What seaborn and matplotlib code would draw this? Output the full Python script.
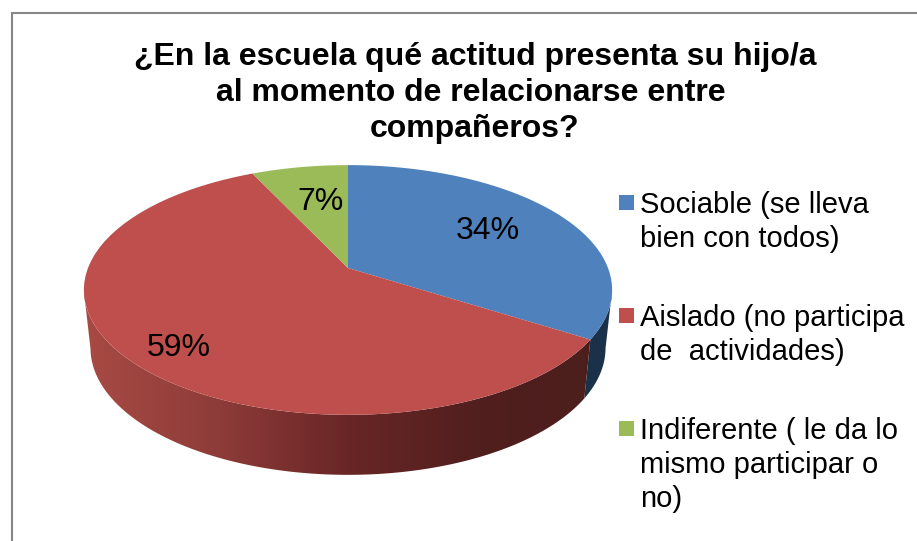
import numpy as np
import matplotlib
matplotlib.use('Agg')
import matplotlib.pyplot as plt
import seaborn as sns
from matplotlib.colors import LinearSegmentedColormap
from matplotlib.patches import Polygon, Rectangle
from matplotlib.path import Path
from matplotlib.transforms import Affine2D, Transform

titulo = '¿En la escuela qué actitud presenta su hijo/a\nal momento de relacionarse entre \ncompañeros?'
categorias = ['Sociable (se lleva\nbien con todos)',
              'Aislado (no participa\nde  actividades)',
              'Indiferente ( le da lo\nmismo participar o\nno)']
valores = [34, 59, 7]
colores = ['#4F81BD', '#BE4F4C', '#9BBB59']

sns.set_theme(style='white')
plt.rcParams['font.family'] = ['Liberation Sans', 'DejaVu Sans']

# vista en perspectiva del pie: circulo unitario -> pixeles
CX, CY = 348, 268
A, D, K = 260, 121, 0.176


class Perspectiva(Transform):
    input_dims = 2
    output_dims = 2
    is_affine = False

    def transform_non_affine(self, values):
        values = np.asarray(values, dtype=float)
        w = 1 + K * values[:, 1]
        return np.column_stack([CX + A * values[:, 0] / w,
                                CY - D * values[:, 1] / w])

    def transform_path_non_affine(self, path):
        poly = path.transformed(Affine2D().scale(400)).to_polygons()[0] / 400
        return Path(self.transform_non_affine(poly))


def base(xy):
    # borde inferior del pie, un poco mas chico y corrido hacia abajo
    return np.column_stack([CX + (xy[:, 0] - CX) * 0.975,
                            348 + (xy[:, 1] - 290) * 1.016])


fig = plt.figure(figsize=(9.17, 5.41), dpi=100)
ax = fig.add_axes([0, 0, 1, 1])

persp = Perspectiva()
wedges, texts, autotexts = ax.pie(valores, colors=colores, startangle=90,
                                  counterclock=False, autopct='%.0f%%',
                                  pctdistance=0.64,
                                  wedgeprops={'linewidth': 0},
                                  textprops={'fontsize': 23, 'color': 'black'})
for w in wedges:
    w.set_transform(persp + ax.transData)
    w.set_zorder(5)

# etiquetas: radio dentro de la porcion y ajuste fino en pixeles
radios = [0.64, 0.787, 0.64]
ajustes = [(2, 2), (0, -11), (5, -2)]
for t, r, aj in zip(autotexts, radios, ajustes):
    x, y = t.get_position()
    t.set_position((x * r / 0.64, y * r / 0.64))
    t.set_transform(persp + ax.transData + Affine2D().translate(*aj))
    t.set_zorder(6)

# pared lateral del pie, solo la parte de adelante
rojo_pared = LinearSegmentedColormap.from_list(
    'pared', ['#A84A44', '#8E3C39', '#692626', '#501F1E', '#4B1E1C'])
azul_pared = LinearSegmentedColormap.from_list('pared2', ['#1F3752', '#1B3049'])
paredes = [azul_pared, rojo_pared, None]
for w, cmap in zip(wedges, paredes):
    if cmap is None:
        continue
    ang = np.radians(np.linspace(w.theta1, w.theta2, 300))
    ang = ang[np.sin(ang) <= -K]
    arco = persp.transform_non_affine(np.column_stack([np.cos(ang), np.sin(ang)]))
    poly = Polygon(np.vstack([arco, base(arco)[::-1]]), closed=True,
                   facecolor='none', edgecolor='none', transform=ax.transData)
    ax.add_patch(poly)
    img = ax.imshow(np.linspace(0, 1, 256)[None, :], cmap=cmap, aspect='auto',
                    extent=(84, 612, 480, 160), zorder=2)
    img.set_clip_path(poly)

ax.set_aspect('auto')
ax.set_xlim(0, 917)
ax.set_ylim(541, 0)
ax.axis('off')

# marco del grafico
ax.plot([11.5, 11.5, 917], [541, 13, 13], color='#868686', lw=1.5, zorder=1,
        solid_joinstyle='miter')

ax.text(475, 93, titulo, ha='center', va='center', fontsize=23,
        fontweight='bold', color='black', linespacing=1.26, zorder=7)

# leyenda, el cuadrito queda en la primera linea de cada entrada
for cat, col, y in zip(categorias, colores, [203, 316, 429]):
    ax.add_patch(Rectangle((618.5, y - 8), 15, 15, facecolor=col, edgecolor='none'))
    ax.text(640, y - 12, cat, ha='left', va='top', fontsize=21, color='black',
            linespacing=1.275, zorder=7)

fig.savefig('out.png', dpi=100)
